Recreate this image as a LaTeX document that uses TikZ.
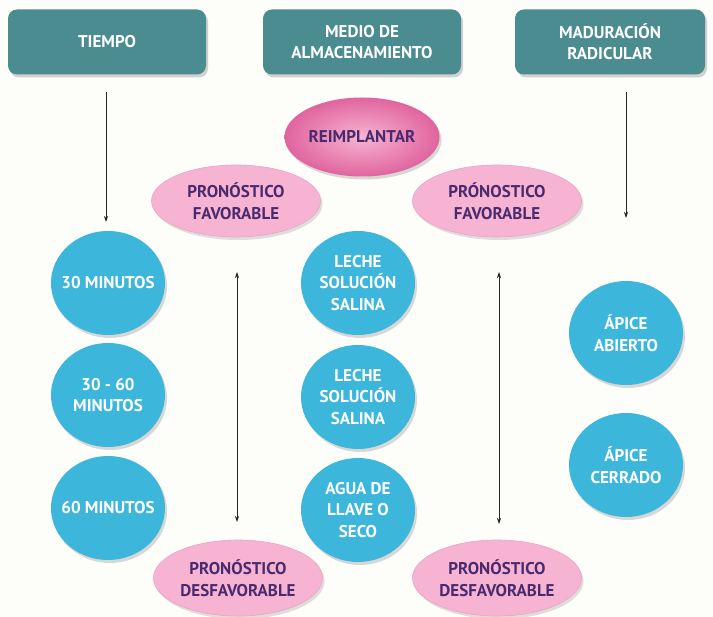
\documentclass[tikz,border=0pt]{standalone}
\usepackage{fontspec}
\setmainfont{PT Sans}
\usetikzlibrary{shapes.geometric,arrows.meta,shadows}
\newcommand\zw[1]{\makebox[0pt]{#1}}
\definecolor{bgc}{HTML}{FDFDFA}
\definecolor{teal}{HTML}{4B8C90}
\definecolor{cyanc}{HTML}{3DB6DC}
\definecolor{pinkc}{HTML}{F7B4D2}
\definecolor{pinkdark}{HTML}{E0649E}
\definecolor{purp}{HTML}{4A2A6E}
\tikzset{
  topbox/.style={rectangle, rounded corners=9pt, fill=teal, minimum width=198pt, minimum height=65pt,
    text=white, font=\bfseries\fontsize{17}{21}\selectfont, align=center,
    drop shadow={opacity=0.35, shadow xshift=2pt, shadow yshift=-3pt}},
  bubble/.style={ellipse, inner sep=0pt, fill=cyanc, minimum width=114pt, minimum height=104pt,
    text=white, font=\bfseries\fontsize{17}{21.5}\selectfont, align=center,
    drop shadow={opacity=0.3, shadow xshift=2pt, shadow yshift=-3pt}},
  pron/.style={ellipse, inner sep=0pt, fill=pinkc, draw=pinkdark!60, line width=0.6pt,
    minimum width=169pt, minimum height=72pt,
    text=purp, font=\bfseries\fontsize{17}{21.5}\selectfont, align=center,
    drop shadow={opacity=0.25, shadow xshift=2pt, shadow yshift=-3pt}},
  reim/.style={ellipse, inner sep=0pt, inner color=pinkc, outer color=pinkdark, minimum width=155pt, minimum height=79pt,
    text=purp, font=\bfseries\fontsize{17}{21}\selectfont,
    drop shadow={opacity=0.3, shadow xshift=2pt, shadow yshift=-3pt}},
  conn/.style={line width=0.7pt, draw=black!85},
  tip/.style={-{Stealth[length=6pt,width=4pt]}},
  tips/.style={{Stealth[length=6pt,width=4pt]}-{Stealth[length=6pt,width=4pt]}}
}
\begin{document}
\begin{tikzpicture}[x=1pt,y=-1pt]
\fill[bgc] (0,0) rectangle (713,617);
\useasboundingbox (0,0) rectangle (713,617);
\node[topbox] (tiempo) at (107,42) {TIEMPO};
\node[topbox] (medio) at (362,42) {MEDIO DE\\ALMACENAMIENTO};
\node[topbox, minimum width=190pt] (madur) at (610,42) {MADURACIÓN\\RADICULAR};
\node[reim] (reimp) at (362,137) {\zw{REIMPLANTAR}};
\node[pron] (pfl) at (236,201) {\zw{PRONÓSTICO}\\\zw{FAVORABLE}};
\node[pron] (pfr) at (497,201) {\zw{PRÓNOSTICO}\\\zw{FAVORABLE}};
\node[bubble] (t1) at (108,283) {\zw{30 MINUTOS}};
\node[bubble] (t2) at (108,395) {\zw{30 - 60}\\\zw{MINUTOS}};
\node[bubble] (t3) at (108,508) {\zw{60 MINUTOS}};
\node[bubble] (m1) at (358,283) {\zw{LECHE}\\\zw{SOLUCIÓN}\\\zw{SALINA}};
\node[bubble] (m2) at (358,397) {\zw{LECHE}\\\zw{SOLUCIÓN}\\\zw{SALINA}};
\node[bubble] (m3) at (358,510) {\zw{AGUA DE}\\\zw{LLAVE O}\\\zw{SECO}};
\node[bubble] (r1) at (626,333) {\zw{ÁPICE}\\\zw{ABIERTO}};
\node[bubble] (r2) at (626,465) {\zw{ÁPICE}\\\zw{CERRADO}};
\node[pron, minimum height=76pt] (pdl) at (238,578) {\zw{PRONÓSTICO}\\\zw{DESFAVORABLE}};
\node[pron, minimum height=76pt] (pdr) at (497,578) {\zw{PRONÓSTICO}\\\zw{DESFAVORABLE}};
\coordinate (a1s) at (106,92);
\coordinate (a1e) at (106,222);
\coordinate (a2s) at (626,92);
\coordinate (a2e) at (626,218);
\coordinate (d1s) at (237,272);
\coordinate (d1e) at (237,522);
\coordinate (d2s) at (499,272);
\coordinate (d2e) at (499,524);
\draw[conn,tip] (a1s) -- (a1e);
\draw[conn,tip] (a2s) -- (a2e);
\draw[conn,tips] (d1s) -- (d1e);
\draw[conn,tips] (d2s) -- (d2e);
\end{tikzpicture}
\end{document}
